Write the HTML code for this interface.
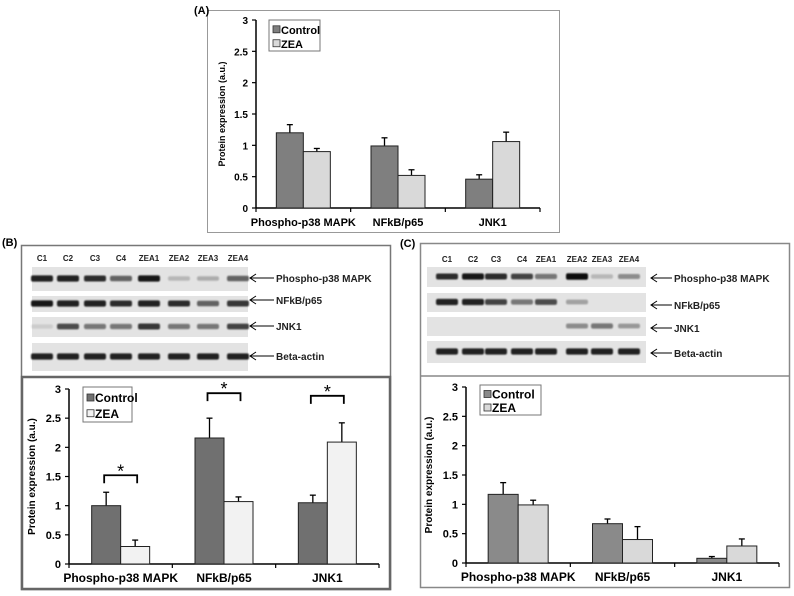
<!DOCTYPE html>
<html><head><meta charset="utf-8"><style>
html,body{margin:0;padding:0;background:#fff;}
svg{display:block;font-family:"Liberation Sans",Arial,sans-serif;}
</style></head><body>
<svg id="fig" width="794" height="596" viewBox="0 0 794 596" xmlns="http://www.w3.org/2000/svg">
<defs><filter id="blur" x="-20%" y="-100%" width="140%" height="300%"><feGaussianBlur stdDeviation="0.9"/></filter></defs>
<g id="root"></g>
</svg>
<script>
// ---- data ----
const categories = ["Phospho-p38 MAPK", "NFkB/p65", "JNK1"];
const seriesNames = ["Control", "ZEA"];
const yTicks = [0, 0.5, 1, 1.5, 2, 2.5, 3];
const yTickLabels = ["0", "0.5", "1", "1.5", "2", "2.5", "3"];
const aControl = [1.2, 0.99, 0.46];
const aZea = [0.9, 0.52, 1.06];
const aControlErr = [0.13, 0.13, 0.07];
const aZeaErr = [0.05, 0.09, 0.15];
const bControl = [1.0, 2.16, 1.05];
const bZea = [0.3, 1.07, 2.09];
const bControlErr = [0.23, 0.34, 0.13];
const bZeaErr = [0.11, 0.08, 0.33];
const cControl = [1.17, 0.67, 0.08];
const cZea = [0.99, 0.40, 0.29];
const cControlErr = [0.2, 0.08, 0.03];
const cZeaErr = [0.08, 0.22, 0.12];
const laneLabels = ["C1", "C2", "C3", "C4", "ZEA1", "ZEA2", "ZEA3", "ZEA4"];
const blotNames = ["Phospho-p38 MAPK", "NFkB/p65", "JNK1", "Beta-actin"];
const bBands = [[0.9,0.9,0.85,0.6,0.95,0.2,0.25,0.6],[0.95,0.9,0.9,0.85,0.9,0.85,0.6,0.8],[0.1,0.7,0.5,0.5,0.8,0.5,0.5,0.75],[0.9,0.9,0.9,0.9,0.9,0.9,0.9,0.9]];
const cBands = [[0.85,0.95,0.85,0.75,0.5,1,0.2,0.4],[0.9,0.9,0.75,0.5,0.7,0.3,0,0],[0,0,0,0,0,0.4,0.5,0.35],[0.9,0.9,0.9,0.9,0.9,0.9,0.9,0.9]];

const NS = "http://www.w3.org/2000/svg";
const root = document.getElementById("root");
function mk(tag, attrs, parent, text) {
  const e = document.createElementNS(NS, tag);
  for (const k in attrs) e.setAttribute(k, attrs[k]);
  if (text !== undefined) e.textContent = text;
  (parent || root).appendChild(e);
  return e;
}

function chart(o) {
  const g = mk("g", {});
  
  
  const y = v => o.y0 - (v / 3) * (o.y0 - o.y3);
  const gw = (o.xEnd - o.x0) / categories.length;
  const groupX = i => o.x0 + gw * i + gw / 2;
  // axes
  const ax = mk("line", {x1:o.x0, y1:o.y3, x2:o.x0, y2:o.y0, stroke:"#000", "stroke-width":1.5}, g);
  
  
  const xx = mk("line", {x1:o.x0, y1:o.y0, x2:o.xEnd, y2:o.y0, stroke:"#000", "stroke-width":1.5}, g);
  
  
  yTicks.forEach((t, i) => {
    mk("line", {x1:o.x0-4, y1:y(t), x2:o.x0, y2:y(t), stroke:"#000", "stroke-width":1.2}, g);
    const tl = mk("text", {x:o.x0-8, y:y(t)+4, "text-anchor":"end", "font-size":o.fs, "font-weight":"bold"}, g, yTickLabels[i]);
    
    
  });
  for (let i = 0; i <= categories.length; i++) {
    const tx = o.x0 + gw * i;
    mk("line", {x1:tx, y1:o.y0, x2:tx, y2:o.y0+4, stroke:"#000", "stroke-width":1.2}, g);
  }
  const yl = mk("text", {x:0, y:0, transform:`translate(${o.ylx},${(o.y0+o.y3)/2}) rotate(-90)`, "text-anchor":"middle", "font-size":o.fs-1, "font-weight":"bold"}, g, "Protein expression (a.u.)");
  
  
  categories.forEach((c, i) => {
    const t = mk("text", {x:groupX(i), y:o.y0+18, "text-anchor":"middle", "font-size":o.fs+1, "font-weight":"bold"}, g, c);
    
    
  });
  const series = [[o.ctrl, o.ctrlErr, o.c1], [o.zea, o.zeaErr, o.c2]];
  series.forEach((s, si) => {
    s[0].forEach((v, i) => {
      const bx = groupX(i) - o.bw + si * o.bw;
      const ex = bx + o.bw / 2;
      const e = mk("line", {x1:ex, y1:y(v), x2:ex, y2:y(v + s[1][i]), stroke:"#000", "stroke-width":1.3}, g);
      
      
      mk("line", {x1:ex-3, y1:y(v + s[1][i]), x2:ex+3, y2:y(v + s[1][i]), stroke:"#000", "stroke-width":1.3}, g);
      const r = mk("rect", {x:bx, y:y(v), width:o.bw, height:o.y0 - y(v), fill:s[2], stroke:"#222", "stroke-width":1}, g);
      
      
    });
  });
  // legend
  const lg = mk("g", {}, g);
  
  
  mk("rect", {x:o.lx, y:o.ly, width:o.lw, height:o.lh, fill:"#fff", stroke:"#777", "stroke-width":1}, lg);
  seriesNames.forEach((n, i) => {
    const yy = o.ly + o.lh * (0.3 + 0.45 * i);
    const sw = mk("rect", {x:o.lx+4, y:yy-3.5, width:7, height:7, fill:i ? o.c2 : o.c1, stroke:"#333", "stroke-width":0.8}, lg);
    
    
    const t = mk("text", {x:o.lx+12, y:yy+4.5, "font-size":o.fs+1, "font-weight":"bold"}, lg, n);
    
    
  });
  if (o.sig) {
    categories.forEach((c, i) => {
      const top = Math.max(o.ctrl[i] + o.ctrlErr[i], o.zea[i] + o.zeaErr[i]);
      const by = y(top) + o.sigOff[i];
      const x1 = groupX(i) - o.bw / 2 - 2, x2 = groupX(i) + o.bw / 2 + 2;
      const p = mk("path", {d:`M${x1},${by+8} L${x1},${by} L${x2},${by} L${x2},${by+8}`, fill:"none", stroke:"#000", "stroke-width":1.8}, g);
      
      
      const st = mk("text", {x:groupX(i), y:by+2, "text-anchor":"middle", "font-size":18}, g, "*");
      
      
    });
  }
}

function blot(o, bands) {
  const g = mk("g", {});
  
  
  laneLabels.forEach((l, i) => {
    const t = mk("text", {x:o.lanes[i], y:o.labelY, "text-anchor":"middle", "font-size":8, "font-weight":"bold", fill:"#222"}, g, l);
    
    
  });
  o.rows.forEach((r, ri) => {
    mk("rect", {x:o.sx0, y:r[0], width:o.sx1 - o.sx0, height:r[1] - r[0], fill:"#e3e3e3"}, g);
    const cy = (r[0] + r[1]) / 2;
    bands[ri].forEach((v, li) => {
      if (v <= 0) return;
      const b = mk("rect", {x:o.lanes[li]-11, y:cy-2.5 - v*1.2, width:22, height:4 + v*2.4, rx:2, fill:"#111", opacity:v, filter:"url(#blur)"}, g);
      
      
    });
    const ay = o.arrowY[ri];
    mk("line", {x1:o.ax0, y1:ay, x2:o.ax1, y2:ay, stroke:"#000", "stroke-width":1}, g);
    mk("path", {d:`M${o.ax0+6},${ay-4} L${o.ax0},${ay} L${o.ax0+6},${ay+4}`, fill:"none", stroke:"#000", "stroke-width":1}, g);
    const t = mk("text", {x:o.ax1+2, y:ay+4, "font-size":10, "font-weight":"bold", fill:"#222"}, g, blotNames[ri]);
    
    
  });
}

// Panel A
mk("rect", {x:207.5, y:10.5, width:352, height:222, fill:"none", stroke:"#999", "stroke-width":1});
let t = mk("text", {x:194, y:14, "font-size":11, "font-weight":"bold"}, root, "(A)");
 
chart({name:"chart-a", x0:256, xEnd:540, y0:208, y3:20, bw:27, fs:10, ylx:225,
  ctrl:aControl, zea:aZea, ctrlErr:aControlErr, zeaErr:aZeaErr, c1:"#7f7f7f", c2:"#d9d9d9",
  lx:269, ly:20, lw:51, lh:31});

// Panel B
t = mk("text", {x:2, y:246, "font-size":11, "font-weight":"bold"}, root, "(B)");
 
mk("rect", {x:21.5, y:245.5, width:369, height:344, fill:"none", stroke:"#777", "stroke-width":1.5});
mk("rect", {x:22, y:377, width:368, height:212, fill:"none", stroke:"#666", "stroke-width":2.5});
blot({name:"blot-b", lanes:[42,68,95,121,149,179,208,238], labelY:261, sx0:32, sx1:248,
  rows:[[267,291],[296,312],[317,337],[343,371]], arrowY:[278,300,326,356], ax0:250, ax1:274}, bBands);
chart({name:"chart-b", x0:69, xEnd:379, y0:564, y3:389, bw:29, fs:11, ylx:35,
  ctrl:bControl, zea:bZea, ctrlErr:bControlErr, zeaErr:bZeaErr, c1:"#707070", c2:"#f2f2f2",
  lx:83, ly:387, lw:49, lh:35, sig:true, sigOff:[-17,-25,-27]});

// Panel C
t = mk("text", {x:400, y:247, "font-size":11, "font-weight":"bold"}, root, "(C)");
 
mk("rect", {x:420.5, y:243.5, width:369, height:344, fill:"none", stroke:"#888", "stroke-width":1.5});
mk("line", {x1:421, y1:376, x2:790, y2:376, stroke:"#888", "stroke-width":1.5});
blot({name:"blot-c", lanes:[447,473,496,522,546,577,602,629], labelY:262, sx0:427, sx1:646,
  rows:[[267,287],[293,312],[317,336],[341,363]], arrowY:[278,305,328,353], ax0:651, ax1:672}, cBands);
chart({name:"chart-c", x0:466, xEnd:779, y0:563, y3:387, bw:30, fs:11, ylx:432,
  ctrl:cControl, zea:cZea, ctrlErr:cControlErr, zeaErr:cZeaErr, c1:"#8a8a8a", c2:"#d9d9d9",
  lx:480, ly:385, lw:61, lh:30});
</script>
</body></html>
